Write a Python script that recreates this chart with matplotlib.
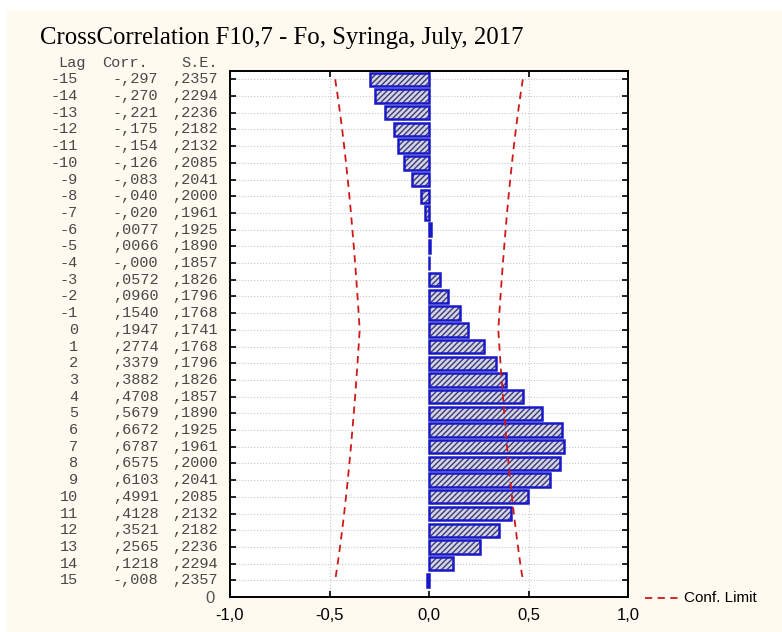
import numpy as np
import matplotlib.pyplot as plt
import matplotlib.transforms as mtransforms
from matplotlib.lines import Line2D
from matplotlib.patches import Rectangle

lags = list(range(-15, 16))
corr = [-0.297, -0.270, -0.221, -0.175, -0.154, -0.126, -0.083, -0.040, -0.020,
        0.0077, 0.0066, -0.000, 0.0572, 0.0960, 0.1540, 0.1947, 0.2774, 0.3379,
        0.3882, 0.4708, 0.5679, 0.6672, 0.6787, 0.6575, 0.6103, 0.4991, 0.4128,
        0.3521, 0.2565, 0.1218, -0.008]
corr_txt = ['-,297', '-,270', '-,221', '-,175', '-,154', '-,126', '-,083', '-,040', '-,020',
            ',0077', ',0066', '-,000', ',0572', ',0960', ',1540', ',1947', ',2774', ',3379',
            ',3882', ',4708', ',5679', ',6672', ',6787', ',6575', ',6103', ',4991', ',4128',
            ',3521', ',2565', ',1218', '-,008']
se = [0.2357, 0.2294, 0.2236, 0.2182, 0.2132, 0.2085, 0.2041, 0.2000, 0.1961,
      0.1925, 0.1890, 0.1857, 0.1826, 0.1796, 0.1768, 0.1741, 0.1768, 0.1796,
      0.1826, 0.1857, 0.1890, 0.1925, 0.1961, 0.2000, 0.2041, 0.2085, 0.2132,
      0.2182, 0.2236, 0.2294, 0.2357]
x_ticks = [-1.0, -0.5, 0.0, 0.5, 1.0]
x_labels = ['-1,0', '-0,5', '0,0', '0,5', '1,0']

W, H = 782, 632
fig = plt.figure(figsize=(W / 100, H / 100), dpi=100)
fig.patch.set_facecolor('white')
fig.patches.append(Rectangle((7 / W, 0), 1, 1 - 10 / H, transform=fig.transFigure,
                             facecolor='#fefaef', edgecolor='none', zorder=-10))

ax = fig.add_axes([230 / W, 1 - 597 / H, 398 / W, 526 / H])
ax.set_facecolor('white')

ypos = np.array([16 - l for l in lags])
se = np.array(se)

# hatched fill first, then the blue outline on top
ax.barh(ypos, corr, height=0.8, color='#d4d4e4', edgecolor='#3a3a78',
        hatch='//////', linewidth=0, zorder=2)
ax.barh(ypos, corr, height=0.8, fill=False, edgecolor='#1818c8', linewidth=1.8, zorder=3)

# confidence limits = 2 * S.E.
ax.plot(2 * se, ypos, color='#d01818', ls=(0, (4, 3)), lw=1.3, zorder=4)
ax.plot(-2 * se, ypos, color='#d01818', ls=(0, (4, 3)), lw=1.3, zorder=4)

ax.set_xlim(-1, 1)
ax.set_ylim(0, 31.5)
ax.set_xticks(x_ticks)
ax.set_xticklabels(x_labels, fontfamily='Liberation Sans', fontsize=12)
ax.set_yticks(range(0, 32))
ax.set_yticklabels(['0'] + [''] * 31, fontfamily='Liberation Sans', fontsize=12, color='#555555')
ax.tick_params(axis='both', direction='in', length=4, width=1.2, top=True, right=True, pad=9)
ax.tick_params(axis='y', pad=11)
ax.tick_params(axis='x', pad=8)
ax.grid(True, color='#c8c8c8', ls=':', lw=0.8, zorder=0)
for s in ax.spines.values():
    s.set_linewidth(1.4)

trans = mtransforms.blended_transform_factory(fig.transFigure, ax.transData)
mono = dict(fontfamily='Liberation Mono', fontsize=11, color='#484848', va='center',
            transform=trans, clip_on=False)
for y, l, c, s in zip(ypos, lags, corr_txt, se):
    fig.text(78 / W, y, str(l), ha='right', **mono)
    fig.text(113 / W, y, c, ha='left', **mono)
    fig.text(218 / W, y, ',' + ('%.4f' % s)[2:], ha='right', **mono)
fig.text(58 / W, 32, 'Lag', ha='left', **mono)
fig.text(148 / W, 32, 'Corr.', ha='right', **mono)
fig.text(218 / W, 32, 'S.E.', ha='right', **mono)

fig.text(40 / W, 1 - 38 / H, 'CrossCorrelation F10,7 - Fo, Syringa, July, 2017',
         fontfamily='Liberation Serif', fontsize=17.8, va='center', ha='left')

fig.lines.append(Line2D([645 / W, 679 / W], [1 - 598 / H] * 2, transform=fig.transFigure,
                        color='#d01818', ls=(0, (4, 3)), lw=1.3))
fig.text(684 / W, 1 - 598 / H, 'Conf. Limit', fontfamily='Liberation Sans', fontsize=11,
         va='center', ha='left')

fig.savefig('out.png', dpi=100)
